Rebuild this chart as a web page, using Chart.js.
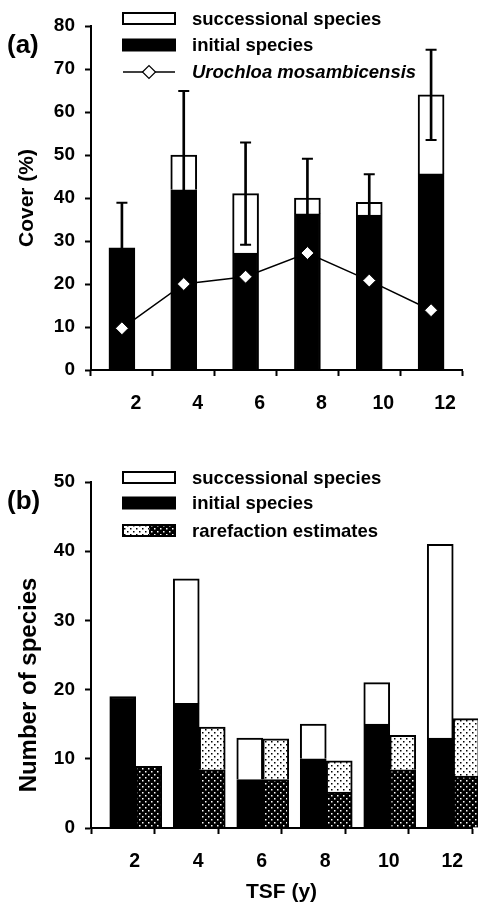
<!DOCTYPE html>
<html>
<head>
<meta charset="utf-8">
<script src="https://cdn.jsdelivr.net/npm/chart.js@4.4.0/dist/chart.umd.min.js"></script>
<style>
  html, body { margin: 0; padding: 0; background: #fff; }
  canvas { display: block; }
</style>
</head>
<body>
<canvas id="chartA" width="478" height="440"></canvas>
<canvas id="chartB" width="478" height="465"></canvas>
<script>
// --- Datos ---
const tsfLabels = ["2", "4", "6", "8", "10", "12"];

// (a) cobertura (%)
const coverInitial = [28.4, 41.9, 27.2, 36.3, 36.0, 45.6];
const coverSuccessional = [0, 8.1, 13.8, 3.7, 3.0, 18.4];
const coverError = [10.5, 14.9, 11.9, 9.1, 6.5, 10.5];
const urochloaCover = [9.7, 20.0, 21.7, 27.2, 20.8, 13.9];

// (b) número de especies
const speciesInitial = [19, 18, 7, 10, 15, 13];
const speciesSuccessional = [0, 18, 6, 5, 6, 28];
const rarefInitial = [8.9, 8.4, 7.0, 5.2, 8.4, 7.5];
const rarefSuccessional = [0, 6.2, 5.9, 4.5, 5.0, 8.3];
const spacer = [null, null, null, null, null, null];

const FONT = "'Liberation Sans', Arial, Helvetica, sans-serif";
const BLACK = "#000";

// --- Tramas de puntos para las estimaciones por rarefacción
function dotPattern(canvasId, bg, fg) {
  const tile = document.createElement("canvas");
  tile.width = 6;
  tile.height = 6;
  const g = tile.getContext("2d");
  g.fillStyle = bg;
  g.fillRect(0, 0, 6, 6);
  g.fillStyle = fg;
  g.fillRect(1, 1, 1.5, 1.5);
  g.fillRect(4, 4, 1.5, 1.5);
  return document.getElementById(canvasId).getContext("2d").createPattern(tile, "repeat");
}
const lightDots = dotPattern("chartB", "#fff", "#000");
const darkDots = dotPattern("chartB", "#000", "#fff");

// --- Leyenda y letra del panel dentro del área (plugin propio)
const boxLegend = {
  id: "boxLegend",
  afterDraw(chart, args, opts) {
    const { ctx } = chart;
    ctx.save();
    ctx.fillStyle = BLACK;
    ctx.textBaseline = "middle";
    ctx.textAlign = "left";
    ctx.font = `bold ${opts.letterSize}px ${FONT}`;
    ctx.fillText(opts.letter, opts.letterX, opts.letterY);

    const bx = 123, bw = 52, bh = 11;
    opts.items.forEach((item, i) => {
      const y = opts.rows[i];
      const ds = chart.data.datasets[item.dataset];
      if (item.kind === "line") {
        ctx.strokeStyle = BLACK;
        ctx.lineWidth = 1.5;
        ctx.beginPath();
        ctx.moveTo(bx, y);
        ctx.lineTo(bx + bw, y);
        ctx.stroke();
        ctx.fillStyle = "#fff";
        ctx.lineWidth = 1.2;
        Chart.helpers.drawPoint(ctx, { pointStyle: "rectRot", radius: 6.5, borderWidth: 1.2 }, bx + bw / 2, y);
      } else {
        if (item.kind === "split") {
          const ds2 = chart.data.datasets[item.dataset2];
          ctx.fillStyle = ds2.backgroundColor;
          ctx.fillRect(bx, y - bh / 2, bw / 2, bh);
          ctx.fillStyle = ds.backgroundColor;
          ctx.fillRect(bx + bw / 2, y - bh / 2, bw / 2, bh);
        } else {
          ctx.fillStyle = ds.backgroundColor;
          ctx.fillRect(bx, y - bh / 2, bw, bh);
        }
        ctx.strokeStyle = BLACK;
        ctx.lineWidth = 2;
        ctx.strokeRect(bx, y - bh / 2, bw, bh);
      }
      ctx.fillStyle = BLACK;
      ctx.font = `${item.italic ? "italic " : ""}bold ${opts.fontSize}px ${FONT}`;
      ctx.fillText(item.text, 192, y + 1);
    });
    ctx.restore();
  },
};

function axisFont(size) {
  return { family: FONT, size, weight: "bold" };
}

function yAxis(max, title, titleSize) {
  return {
    stacked: true,
    min: 0,
    max,
    ticks: { stepSize: 10, color: BLACK, font: axisFont(19), padding: 10 },
    grid: { drawOnChartArea: false, tickLength: 6, tickColor: BLACK, tickWidth: 2 },
    border: { color: BLACK, width: 2 },
    title: { display: true, text: title, color: BLACK, font: axisFont(titleSize), padding: { top: 15, bottom: 0 } },
    afterFit(scale) {
      scale.width = 91;
    },
  };
}

function xAxis(height, labelOffset, padding, title) {
  return {
    stacked: true,
    offset: true,
    grid: { offset: true, drawOnChartArea: false, tickLength: 6, tickColor: BLACK, tickWidth: 2 },
    border: { color: BLACK, width: 2 },
    ticks: { color: BLACK, font: axisFont(19.5), labelOffset, padding, maxRotation: 0 },
    title: title
      ? { display: true, text: title, color: BLACK, font: axisFont(21), padding: { top: 0, bottom: 0 } }
      : { display: false },
    afterFit(scale) {
      scale.height = height;
    },
  };
}

const coverTotal = coverInitial.map((v, i) => v + coverSuccessional[i]);

// --- Panel (a)
new Chart(document.getElementById("chartA"), {
  type: "bar",
  data: {
    labels: tsfLabels,
    datasets: [
      {
        type: "line",
        label: "Urochloa mosambicensis",
        data: urochloaCover,
        borderColor: BLACK,
        borderWidth: 1.5,
        pointStyle: "rectRot",
        pointRadius: 6.5,
        pointBackgroundColor: "#fff",
        pointBorderColor: BLACK,
        pointBorderWidth: 1,
        stack: "uro",
        order: 0,
      },
      {
        type: "line",
        label: "error+",
        data: coverTotal.map((v, i) => v + coverError[i]),
        showLine: false,
        pointStyle: "line",
        pointRadius: 5.5,
        pointBorderWidth: 2,
        pointBorderColor: BLACK,
        stack: "capHi",
        order: 1,
      },
      {
        type: "line",
        label: "error-",
        data: coverTotal.map((v, i) => v - coverError[i]),
        showLine: false,
        pointStyle: "line",
        pointRadius: 5.5,
        pointBorderWidth: 2,
        pointBorderColor: BLACK,
        stack: "capLo",
        order: 1,
      },
      {
        label: "error",
        data: coverTotal.map((v, i) => [v - coverError[i], v + coverError[i]]),
        backgroundColor: BLACK,
        barThickness: 2,
        grouped: false,
        stack: "err",
        order: 2,
      },
      {
        label: "initial species",
        data: coverInitial,
        backgroundColor: BLACK,
        borderColor: BLACK,
        borderWidth: 2,
        barThickness: 26,
        stack: "cover",
        order: 3,
      },
      {
        label: "successional species",
        data: coverSuccessional,
        backgroundColor: "#fff",
        borderColor: BLACK,
        borderWidth: 2,
        barThickness: 26,
        stack: "cover",
        order: 3,
      },
    ],
  },
  options: {
    responsive: false,
    animation: false,
    layout: { padding: { top: 26, left: 0, right: 16, bottom: 0 } },
    plugins: {
      legend: { display: false },
      tooltip: { enabled: false },
      boxLegend: {
        letter: "(a)",
        letterX: 7,
        letterY: 46,
        letterSize: 26,
        fontSize: 18.5,
        rows: [18.5, 45, 72],
        items: [
          { text: "successional species", dataset: 5 },
          { text: "initial species", dataset: 4 },
          { text: "Urochloa mosambicensis", dataset: 0, kind: "line", italic: true },
        ],
      },
    },
    scales: {
      x: xAxis(70, 14, 16),
      y: yAxis(80, "Cover (%)", 21),
    },
  },
  plugins: [boxLegend],
});

// --- Panel (b)
const barB = { borderColor: BLACK, borderWidth: 2, barThickness: 26, clip: false };
new Chart(document.getElementById("chartB"), {
  type: "bar",
  data: {
    labels: tsfLabels,
    datasets: [
      { label: "spacer", data: spacer, backgroundColor: "rgba(0,0,0,0)", borderWidth: 0, barThickness: 26, stack: "pad" },
      { ...barB, label: "initial species", data: speciesInitial, backgroundColor: BLACK, stack: "obs" },
      { ...barB, label: "successional species", data: speciesSuccessional, backgroundColor: "#fff", stack: "obs" },
      { ...barB, label: "rarefaction (initial)", data: rarefInitial, backgroundColor: darkDots, stack: "rare" },
      { ...barB, label: "rarefaction estimates", data: rarefSuccessional, backgroundColor: lightDots, stack: "rare" },
    ],
  },
  options: {
    responsive: false,
    animation: false,
    layout: { padding: { top: 42, left: 0, right: 6, bottom: 0 } },
    plugins: {
      legend: { display: false },
      tooltip: { enabled: false },
      boxLegend: {
        letter: "(b)",
        letterX: 7,
        letterY: 62,
        letterSize: 26,
        fontSize: 18.5,
        rows: [37.5, 63, 90.5],
        items: [
          { text: "successional species", dataset: 2 },
          { text: "initial species", dataset: 1 },
          { text: "rarefaction estimates", dataset: 3, dataset2: 4, kind: "split" },
        ],
      },
    },
    scales: {
      x: xAxis(77, 12, 16, "TSF (y)"),
      // espacios finales: bajan el título como en el original
      y: yAxis(50, "Number of species         ", 24),
    },
  },
  plugins: [boxLegend],
});
</script>
</body>
</html>
